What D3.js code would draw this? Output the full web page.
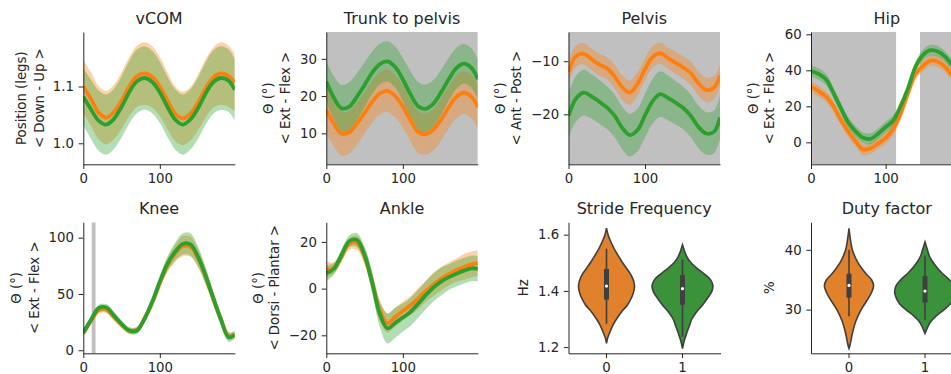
<!DOCTYPE html>
<html>
<head>
<meta charset="utf-8">
<script src="https://cdn.jsdelivr.net/npm/d3@7"></script>
<style>
  body { margin: 0; background: #fff; }
  svg { display: block; }
  text { font-family: 'DejaVu Sans', sans-serif; fill: #262626; }
</style>
</head>
<body>
<div id="chart"></div>
<script>
// x samples (% of stride) for the gait curves
const steps = [0, 10, 20, 30, 40, 50, 60, 70, 80, 90, 100, 110, 120, 130, 140, 150, 160, 170, 180, 190, 198];
const hipSteps = [0, 10, 20, 30, 40, 50, 60, 70, 80, 90, 100, 110, 120, 130, 140, 150, 160, 170, 180, 190, 203];
const xTicks = [0, 100];

// vCOM
const vcomOrange = [1.100, 1.078, 1.054, 1.045, 1.055, 1.075, 1.100, 1.118, 1.123, 1.117, 1.100, 1.075, 1.052, 1.044, 1.052, 1.072, 1.097, 1.116, 1.123, 1.118, 1.107];
const vcomOrangeSd = [0.047, 0.047, 0.047, 0.047, 0.048, 0.050, 0.052, 0.054, 0.055, 0.054, 0.052, 0.050, 0.048, 0.047, 0.047, 0.049, 0.051, 0.053, 0.055, 0.054, 0.050];
const vcomGreen = [1.082, 1.060, 1.040, 1.033, 1.043, 1.064, 1.090, 1.109, 1.115, 1.108, 1.090, 1.064, 1.042, 1.033, 1.042, 1.062, 1.088, 1.108, 1.115, 1.110, 1.094];
const vcomGreenSd = [0.050, 0.052, 0.053, 0.053, 0.053, 0.054, 0.055, 0.056, 0.056, 0.055, 0.054, 0.053, 0.053, 0.053, 0.053, 0.054, 0.055, 0.056, 0.056, 0.055, 0.054];
const vcomTicks = [1.0, 1.1];

// Trunk to pelvis
const trunkOrange = [16.3, 12.5, 9.9, 10.3, 12.6, 15.5, 18.5, 20.7, 21.4, 20.0, 17.2, 13.5, 10.4, 9.8, 11.0, 13.7, 17.0, 19.8, 20.9, 19.8, 17.0];
const trunkOrangeSd = [6.2, 6.0, 5.8, 5.7, 5.6, 5.6, 5.6, 5.6, 5.7, 5.7, 5.7, 5.6, 5.6, 5.5, 5.5, 5.6, 5.6, 5.7, 5.7, 5.8, 5.9];
const trunkGreen = [23.9, 19.5, 16.7, 17.2, 19.8, 23.0, 26.3, 28.6, 29.3, 27.8, 24.5, 20.5, 17.3, 16.6, 18.0, 21.0, 24.5, 27.5, 28.7, 27.5, 24.5];
const trunkGreenSd = [5.4, 5.8, 6.3, 6.5, 6.3, 6.0, 5.7, 5.5, 5.4, 5.5, 5.8, 6.2, 6.5, 6.5, 6.3, 6.0, 5.7, 5.5, 5.3, 5.3, 5.4];
const trunkTicks = [10, 20, 30];
const trunkSpans = [[0, 198]];

// Pelvis
const pelvisOrange = [-12.0, -9.0, -8.6, -9.6, -10.6, -11.3, -12.8, -14.9, -15.9, -14.3, -11.5, -9.2, -8.5, -9.4, -10.3, -11.2, -12.3, -14.2, -15.4, -15.0, -12.7];
const pelvisOrangeSd = [2.0, 2.0, 2.0, 2.0, 2.1, 2.1, 2.2, 2.3, 2.3, 2.2, 2.1, 2.0, 2.0, 2.0, 2.1, 2.1, 2.2, 2.3, 2.3, 2.2, 2.1];
const pelvisGreen = [-20.3, -17.0, -15.9, -16.6, -17.6, -18.7, -20.2, -22.5, -23.9, -23.0, -20.2, -17.5, -16.2, -16.9, -17.8, -18.8, -20.3, -22.4, -23.6, -23.3, -20.6];
const pelvisGreenSd = [4.2, 4.3, 4.3, 4.2, 4.1, 4.0, 4.0, 4.0, 4.0, 4.0, 4.1, 4.2, 4.3, 4.2, 4.1, 4.0, 4.0, 4.0, 4.0, 4.0, 4.1];
const pelvisTicks = [-20, -10];
const pelvisSpans = [[0, 198]];

// Hip
const hipOrange = [31, 28.5, 25.5, 20, 12.5, 6, 0.5, -4.0, -3.3, -0.6, 2.5, 7.3, 16, 27.5, 38, 42.5, 45.4, 44.8, 41.8, 36.5, 29];
const hipOrangeSd = [3.0, 3.0, 3.0, 3.0, 3.0, 3.0, 3.0, 3.0, 3.0, 3.0, 3.2, 3.5, 3.8, 3.8, 3.5, 3.2, 3.0, 3.0, 3.0, 3.0, 3.0];
const hipGreen = [39.6, 38, 35, 27.5, 19, 11, 6, 2.5, 2.0, 4.8, 8.5, 12, 20, 30, 42, 48.5, 51.2, 50.5, 47.5, 42.5, 36];
const hipGreenSd = [3.2, 3.2, 3.2, 3.1, 3.0, 3.0, 3.0, 3.0, 3.0, 3.0, 3.0, 3.0, 3.0, 3.0, 3.0, 3.0, 3.0, 3.0, 3.0, 3.0, 3.0];
const hipTicks = [0, 20, 40, 60];
const hipSpans = [[0, 114], [146, 203]];

// Knee
const kneeOrange = [15, 26, 35.5, 36, 29.5, 22.5, 17.5, 18, 28, 42, 59.5, 75.5, 86, 92.5, 92, 82, 65.5, 46, 27.5, 12.5, 13.5];
const kneeOrangeSd = [2.5, 2.5, 2.8, 2.8, 2.8, 2.8, 2.8, 2.8, 3.0, 3.5, 4.5, 6.0, 7.5, 9.0, 9.0, 8.0, 7.0, 5.5, 4.5, 3.5, 3.0];
const kneeGreen = [15.7, 27, 37.5, 38, 31, 23.5, 17.5, 17.5, 28, 43, 61, 77, 87.5, 94.5, 94, 83, 66, 46, 27, 11.5, 14];
const kneeGreenSd = [2.5, 2.5, 3.0, 3.0, 3.0, 3.0, 3.0, 3.0, 3.5, 4.0, 5.0, 6.5, 8.0, 9.5, 10.0, 9.0, 7.5, 6.0, 5.0, 4.0, 3.5];
const kneeTicks = [0, 50, 100];
const kneeSpans = [[11, 16]];

// Ankle
const ankleOrange = [8, 8.8, 13.8, 19.2, 19.6, 13.8, 2.8, -9.5, -14.8, -12.2, -9.6, -7.2, -4.3, -1.1, 1.8, 4.2, 6.2, 7.9, 9.3, 10.4, 10.9];
const ankleOrangeSd = [3.5, 2.5, 2.5, 2.5, 3.0, 3.5, 4.0, 4.5, 4.0, 4.0, 4.0, 4.0, 4.5, 4.5, 5.0, 5.0, 5.0, 5.0, 5.5, 5.5, 5.5];
const ankleGreen = [6.6, 8.5, 14.5, 20.3, 20.8, 14.5, 2.5, -11, -17, -14.7, -12.4, -10, -6.5, -2.8, 0.5, 3.0, 4.9, 6.4, 7.7, 8.7, 8.5];
const ankleGreenSd = [3.5, 2.5, 2.5, 2.5, 3.0, 3.5, 4.5, 5.5, 6.5, 6.5, 6.0, 6.0, 6.0, 6.0, 6.0, 6.0, 5.5, 5.5, 5.5, 5.5, 5.5];
const ankleTicks = [-20, 0, 20];

// Violin panels: groups, density profiles (relative half-width) and box stats
const groups = [0, 1];
const strideTicks = [1.2, 1.4, 1.6];
const strideY0 = [1.213, 1.23, 1.25, 1.28, 1.30, 1.33, 1.35, 1.38, 1.40, 1.42, 1.45, 1.48, 1.50, 1.53, 1.55, 1.58, 1.60, 1.623];
const strideW0 = [0, 0.03, 0.10, 0.22, 0.33, 0.53, 0.69, 0.84, 0.90, 0.92, 0.84, 0.66, 0.53, 0.36, 0.25, 0.12, 0.05, 0];
const strideY1 = [1.195, 1.22, 1.25, 1.28, 1.30, 1.33, 1.35, 1.38, 1.40, 1.42, 1.44, 1.46, 1.48, 1.50, 1.52, 1.54, 1.564];
const strideW1 = [0, 0.05, 0.14, 0.24, 0.31, 0.50, 0.66, 0.86, 0.97, 1.0, 0.92, 0.72, 0.48, 0.28, 0.15, 0.07, 0];
const strideMedian = [1.417, 1.408];
const strideQ1 = [1.369, 1.351];
const strideQ3 = [1.478, 1.456];
const strideLo = [1.283, 1.237];
const strideHi = [1.550, 1.512];

const dutyTicks = [30, 40];
const dutyY0 = [23.5, 24, 26, 28, 30, 32, 33, 34, 35, 36, 38, 40, 42, 43.6];
const dutyW0 = [0, 0.03, 0.11, 0.22, 0.40, 0.65, 0.75, 0.81, 0.74, 0.56, 0.28, 0.11, 0.04, 0];
const dutyY1 = [26, 27, 28, 29, 30, 31, 32, 33, 34, 35, 36, 37, 38, 39, 40, 41.3];
const dutyW1 = [0, 0.08, 0.19, 0.38, 0.63, 0.84, 0.95, 1.0, 0.95, 0.80, 0.58, 0.40, 0.25, 0.14, 0.08, 0];
const dutyMedian = [34.05, 33.1];
const dutyQ1 = [32.0, 31.2];
const dutyQ3 = [36.0, 35.6];
const dutyLo = [28.9, 28.3];
const dutyHi = [40.0, 39.05];

const ORANGE = '#ff7f0e', GREEN = '#2ca02c';
const VIOLIN = ['#e1812c', '#3a923a'];
const EDGE = '#3f3f3f';
const THETA = '\u0398 (\u00b0)';

// layout
const colLeft = [83.3, 326.3, 568.5, 811];
const colWidth = 151.5;
const rowTop = [32, 222.3];
const rowBottom = [164.3, 353.3];

const svg = d3.select('#chart').append('svg')
  .attr('width', 951).attr('height', 374);

function frame(col, row, title, labels, labelX) {
  const left = colLeft[col], right = left + colWidth;
  const top = rowTop[row], bottom = rowBottom[row];
  const g = svg.append('g');
  g.append('text')
    .attr('x', (left + right) / 2).attr('y', top - 8)
    .attr('text-anchor', 'middle').style('font-size', '16px')
    .text(title);
  const cy = (top + bottom) / 2;
  labels.forEach((l, i) => {
    g.append('text')
      .attr('transform', 'translate(' + labelX[i] + ',' + cy + ') rotate(-90)')
      .attr('dy', '0.35em').attr('text-anchor', 'middle')
      .style('font-size', '13.3px')
      .text(l);
  });
  return { g, left, right, top, bottom };
}

function axes(f, x, y, xt, yt, fmt) {
  const xa = f.g.append('g')
    .attr('transform', 'translate(0,' + f.bottom + ')')
    .call(d3.axisBottom(x).tickValues(xt).tickSize(4.7).tickPadding(4.7).tickSizeOuter(0));
  const ya = f.g.append('g')
    .attr('transform', 'translate(' + f.left + ',0)')
    .call(d3.axisLeft(y).tickValues(yt).tickFormat(fmt).tickSize(4.7).tickPadding(4.7).tickSizeOuter(0));
  [xa, ya].forEach(a => {
    a.selectAll('text').style('font-size', '13.3px').style('font-family', "'DejaVu Sans', sans-serif").attr('fill', '#262626');
    a.selectAll('line,path').attr('stroke', '#262626').attr('stroke-width', 1);
  });
}

let clipId = 0;
function linePanel(p) {
  const f = frame(p.col, p.row, p.title, p.labels, p.labelX);
  const x = d3.scaleLinear().domain([0, p.xs[p.xs.length - 1]]).range([f.left, f.right]);
  const y = d3.scaleLinear().domain(p.yDomain).range([f.bottom, f.top]);

  const id = 'clip' + (clipId++);
  f.g.append('clipPath').attr('id', id).append('rect')
    .attr('x', f.left).attr('y', f.top).attr('width', f.right - f.left).attr('height', f.bottom - f.top);
  const plot = f.g.append('g').attr('clip-path', 'url(#' + id + ')');

  (p.spans || []).forEach(s => {
    plot.append('rect')
      .attr('x', x(s[0])).attr('width', x(s[1]) - x(s[0]))
      .attr('y', f.top).attr('height', f.bottom - f.top)
      .attr('fill', '#c0c0c0');
  });

  const series = p.series.map(s => p.xs.map((v, i) => ({ x: v, m: s.mean[i], s: s.sd[i] })));
  const area = d3.area().x(d => x(d.x)).y0(d => y(d.m - d.s)).y1(d => y(d.m + d.s)).curve(d3.curveCatmullRom);
  const line = d3.line().x(d => x(d.x)).y(d => y(d.m)).curve(d3.curveCatmullRom);

  series.forEach((d, i) => {
    plot.append('path').datum(d).attr('d', area)
      .attr('fill', p.series[i].color).attr('fill-opacity', 0.36).attr('stroke', 'none');
  });
  series.forEach((d, i) => {
    plot.append('path').datum(d).attr('d', line)
      .attr('fill', 'none').attr('stroke', p.series[i].color).attr('stroke-width', 3.8);
  });

  axes(f, x, y, xTicks, p.yTicks, d3.format(p.fmt));
}

function violinPanel(p) {
  const f = frame(p.col, p.row, p.title, p.labels, p.labelX);
  const x = d3.scaleBand().domain(groups).range([f.left, f.left + 152]).padding(0);
  const y = d3.scaleLinear().domain(p.yDomain).range([f.bottom, f.top]);
  const half = x.bandwidth() * 0.4;

  groups.forEach((gr, i) => {
    const cx = x(gr) + x.bandwidth() / 2;
    const pts = p.ys[i].map((v, j) => ({ v, w: p.ws[i][j] }));
    f.g.append('path').datum(pts)
      .attr('d', d3.area()
        .y(d => y(d.v))
        .x0(d => cx - d.w * half)
        .x1(d => cx + d.w * half)
        .curve(d3.curveCatmullRom.alpha(0.5)))
      .attr('fill', VIOLIN[i]).attr('stroke', EDGE).attr('stroke-width', 1.6);
    f.g.append('line')
      .attr('x1', cx).attr('x2', cx)
      .attr('y1', y(p.lo[i])).attr('y2', y(p.hi[i]))
      .attr('stroke', EDGE).attr('stroke-width', 1.6);
    f.g.append('rect')
      .attr('x', cx - 2.5).attr('width', 5)
      .attr('y', y(p.q3[i])).attr('height', y(p.q1[i]) - y(p.q3[i]))
      .attr('fill', EDGE);
    f.g.append('circle')
      .attr('cx', cx).attr('cy', y(p.median[i])).attr('r', 1.6)
      .attr('fill', '#fff');
  });

  axes(f, x, y, groups, p.yTicks, d3.format(p.fmt));
}

linePanel({ col: 0, row: 0, title: 'vCOM', labels: ['Position (legs)', '< Down - Up >'], labelX: [21.7, 39],
  xs: steps, yDomain: [0.963, 1.196], yTicks: vcomTicks, fmt: '.1f',
  series: [{ mean: vcomOrange, sd: vcomOrangeSd, color: ORANGE }, { mean: vcomGreen, sd: vcomGreenSd, color: GREEN }] });

linePanel({ col: 1, row: 0, title: 'Trunk to pelvis', labels: [THETA, '< Ext - Flex >'], labelX: [268.3, 285.7],
  xs: steps, yDomain: [1.7, 37.2], yTicks: trunkTicks, fmt: 'd', spans: trunkSpans,
  series: [{ mean: trunkOrange, sd: trunkOrangeSd, color: ORANGE }, { mean: trunkGreen, sd: trunkGreenSd, color: GREEN }] });

linePanel({ col: 2, row: 0, title: 'Pelvis', labels: [THETA, '< Ant - Post >'], labelX: [500, 516.7],
  xs: steps, yDomain: [-29.4, -4.5], yTicks: pelvisTicks, fmt: 'd', spans: pelvisSpans,
  series: [{ mean: pelvisOrange, sd: pelvisOrangeSd, color: ORANGE }, { mean: pelvisGreen, sd: pelvisGreenSd, color: GREEN }] });

linePanel({ col: 3, row: 0, title: 'Hip', labels: [THETA, '< Ext - Flex >'], labelX: [753.3, 769],
  xs: hipSteps, yDomain: [-12.2, 61.3], yTicks: hipTicks, fmt: 'd', spans: hipSpans,
  series: [{ mean: hipOrange, sd: hipOrangeSd, color: ORANGE }, { mean: hipGreen, sd: hipGreenSd, color: GREEN }] });

linePanel({ col: 0, row: 1, title: 'Knee', labels: [THETA, '< Ext - Flex >'], labelX: [16.7, 34],
  xs: steps, yDomain: [-2.7, 113.7], yTicks: kneeTicks, fmt: 'd', spans: kneeSpans,
  series: [{ mean: kneeOrange, sd: kneeOrangeSd, color: ORANGE }, { mean: kneeGreen, sd: kneeGreenSd, color: GREEN }] });

linePanel({ col: 1, row: 1, title: 'Ankle', labels: [THETA, '< Dorsi - Plantar >'], labelX: [258, 274],
  xs: steps, yDomain: [-27.7, 28.4], yTicks: ankleTicks, fmt: 'd',
  series: [{ mean: ankleOrange, sd: ankleOrangeSd, color: ORANGE }, { mean: ankleGreen, sd: ankleGreenSd, color: GREEN }] });

violinPanel({ col: 2, row: 1, title: 'Stride Frequency', labels: ['Hz'], labelX: [523.3],
  yDomain: [1.178, 1.644], yTicks: strideTicks, fmt: '.1f',
  ys: [strideY0, strideY1], ws: [strideW0, strideW1],
  median: strideMedian, q1: strideQ1, q3: strideQ3, lo: strideLo, hi: strideHi });

violinPanel({ col: 3, row: 1, title: 'Duty factor', labels: ['%'], labelX: [769],
  yDomain: [22.7, 44.6], yTicks: dutyTicks, fmt: 'd',
  ys: [dutyY0, dutyY1], ws: [dutyW0, dutyW1],
  median: dutyMedian, q1: dutyQ1, q3: dutyQ3, lo: dutyLo, hi: dutyHi });
</script>
</body>
</html>
